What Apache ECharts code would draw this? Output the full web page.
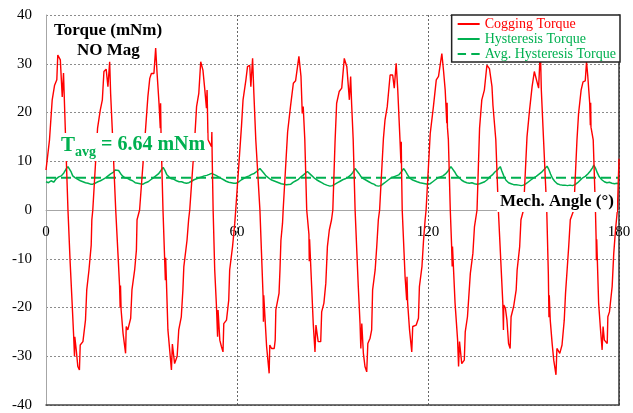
<!DOCTYPE html>
<html>
<head>
<meta charset="utf-8">
<script src="https://cdn.jsdelivr.net/npm/echarts@6/dist/echarts.min.js"></script>
<style>
html,body{margin:0;padding:0;background:#fff;}
#c{width:633px;height:413px;}
</style>
</head>
<body>
<div id="c"></div>
<script>
// ---- data ----
var xTicks = [0, 60, 120, 180];
var yTicks = [-40, -30, -20, -10, 0, 10, 20, 30, 40];
var avgTorque = 6.64;

var coggingAngle = [
 0,1.1,1.95,2.7,3.4,3.7,4.5,5.1,5.5,5.8,6.05,6.9,7.6,8.2,8.65,8.95,9.05,9.5,10.0,10.5,10.75,11.6,12.4,12.8,13.5,14.2,14.4,
 14.7,16.2,17.05,17.7,18.2,18.9,19.45,20.0,20.3,20.8,21.9,22.6,23.1,23.3,23.4,23.6,24.2,25.0,25.2,25.7,26.6,27.0,27.85,28.4,28.6,
 29.4,31.3,32.0,32.6,33.1,33.9,34.45,34.9,35.5,35.9,36.0,36.15,36.75,37.5,37.6,38.3,39.4,39.7,40.4,41.2,41.7,42.5,43.0,43.3,44.3,44.8,
 45.15,46.7,47.3,48.0,48.6,49.3,49.9,50.4,50.6,50.9,52.0,52.1,52.2,52.5,53.0,53.55,53.9,54.05,54.6,55.1,55.6,55.85,56.7,57.4,57.7,58.6,59.3,
 59.6,61.4,61.9,62.8,63.3,64.0,64.35,64.9,65.3,65.9,67.2,67.7,68.2,68.3,68.4,69.3,70.1,70.3,70.85,71.7,72.0,72.2,73.2,73.5,73.8,74.3,
 74.5,75.9,76.8,77.7,78.4,79.45,80.1,80.5,80.8,81.3,81.9,82.6,82.7,82.8,83.45,83.95,84.5,84.8,85.5,86.3,86.6,87.3,87.9,88.4,89.0,89.7,
 90.1,90.8,91.3,92.1,92.9,93.7,94.5,95.3,95.7,96.0,96.5,97.1,98.1,98.65,98.9,99.2,99.7,100.2,100.75,101.1,101.8,102.3,102.6,103.4,103.9,104.4,
 104.8,106.0,106.5,107.2,108.1,108.9,109.4,110.0,110.5,111.2,111.5,111.6,111.7,111.9,112.8,113.3,113.4,113.6,114.2,114.9,115.2,116.3,117.0,117.3,118.1,118.6,119.1,
 119.4,120.7,121.7,122.6,123.3,123.8,124.35,124.9,125.4,125.9,126.0,126.1,126.4,127.0,127.4,127.6,127.7,128.5,129.3,129.6,129.9,130.6,131.4,131.7,132.4,133.3,134.1,134.6,
 135.4,136.2,136.9,137.7,138.5,139.3,140.1,140.4,141.3,142.1,143.5,143.7,143.8,144.3,144.8,145.3,145.8,146.1,146.9,147.7,148.0,148.8,149.2,
 150.0,151.1,151.9,152.7,153.4,154.0,154.75,155.3,155.6,156.3,157.3,157.8,158.0,158.1,158.4,159.0,159.5,160.2,160.5,161.4,162.1,162.8,163.2,163.7,164.2,164.7,
 165.8,166.8,167.3,168.1,168.7,169.4,169.8,170.2,170.8,171.0,171.1,171.2,171.9,172.6,172.8,172.9,173.0,173.6,174.2,174.7,175.0,175.4,176.3,176.5,177.0,177.85,178.35,178.9,179.5,180
];
var coggingTorque = [
 8.2,14.4,22.6,25.6,26.7,31.8,30.8,23.2,28.1,21.9,16.8,0,-10.9,-19,-25.3,-30,-26,-28.7,-32.1,-32.8,-27.7,-27,-22.6,-16.4,-12.3,-7.2,-2,
 0,16.8,20.5,22.6,28.4,28.9,25.3,30.4,23.9,16.8,0,-8.9,-15.4,-20,-15.5,-20.5,-25.3,-29.4,-23.9,-24.6,-22.2,-16.4,-12.3,-8.2,-2,
 0,16.8,23.2,27,28,28,33.2,28,21.9,16.8,21.9,15,0,-14.4,-9.8,-24.6,-32.8,-27.5,-31.5,-30,-24.6,-21.9,-16.4,-11.6,-6.2,-2,
 0,14.4,21.2,23.9,30.4,28.7,24.6,20.9,24.6,14.4,13,16,11,0,-12.3,-19.8,-26,-20.5,-26.7,-28,-29.1,-23.3,-22.6,-18.5,-12.3,-7.5,-2.7,
 0,17.1,22.6,26.7,29.4,29.7,25.3,31.1,23.9,14.4,0,-8.9,-17.8,-22.9,-17.5,-28,-33.5,-27.7,-28.4,-28.4,-26.7,-20.5,-17.1,-12.3,-6.2,-2.7,
 0,16,21.2,26,26.5,31.5,27.4,19.8,21.2,14.4,0,-5,-10.5,-6,-15.7,-23.3,-29.1,-23.6,-27,-27,-20.9,-19.1,-15,-7.5,-4.1,-2,
 0,14,21.9,24.3,25,31.1,29.4,22.6,27.4,21.9,14.4,0,-15.7,-23.3,-28.4,-23.3,-29.4,-32.1,-33.2,-27.4,-26.3,-24.6,-16.4,-12.3,-7.5,-2,
 0,14.7,18.5,21.2,27.7,27.7,25,30.1,24.6,14.4,9.6,14,8,0,-13.7,-18.5,-13.7,-19,-24.6,-29.1,-23.9,-23.6,-22.2,-15.7,-11.6,-6.2,-2,
 0,15.7,21.2,26.7,27.4,27.4,32.1,28.4,24.6,17.8,22,17,14.4,0,-7,-11.6,-7.5,-19.1,-26.7,-32.1,-27,-31.5,-30.8,-25,-21.9,-13,-8.9,-3.4,
 0,16.8,22.6,24.6,29.7,29,25.3,21.5,14.4,0,-19.1,-24.6,-19.5,-20.1,-22.6,-27.4,-28.4,-21.9,-19.8,-16.4,-12.3,-7.5,-2,
 0,15,20.5,25.3,28.4,28,25,33,24.6,14.4,0,-13,-22,-17.5,-22.6,-27.4,-30.8,-33.8,-28.4,-29.4,-27.7,-22.6,-17.1,-12.3,-7.5,-2,
 0,14.4,19.8,24.6,26.3,26.5,30.4,27.4,21.9,17.4,22,17,14.4,0,-5.5,-10.3,-6,-19.1,-24.6,-28.7,-23.9,-26.7,-27.4,-21.9,-20.9,-15.7,-8.9,-4.1,0,10.5
];

var hystAngle = [
 0,0.8,1.6,2.4,3.2,4.0,4.8,5.6,6.3,6.9,7.4,7.9,8.4,9.2,10.0,10.8,11.6,12.4,13.2,14.0,14.7,15.5,16.3,17.1,17.9,18.7,19.5,20.3,21.1,21.7,22.3,22.8,23.4,24.0,24.8,25.6,26.4,27.2,28.0,28.8,29.6,
 30.5,31.3,32.1,32.9,33.7,34.5,35.3,36.0,36.8,37.3,37.9,38.6,39.4,40.2,41.0,41.8,42.6,43.4,44.1,44.9,45.7,46.5,47.3,48.1,48.9,49.7,50.5,51.3,52.0,52.7,53.4,54.2,55.0,55.8,56.6,57.4,58.2,59.0,59.8,
 60.6,61.4,62.2,63.0,63.8,64.6,65.4,66.2,67.2,67.8,68.4,69.1,69.9,70.7,71.5,72.3,73.1,73.9,74.7,75.5,76.1,76.9,77.7,78.5,79.3,80.1,80.9,81.5,82.1,82.7,83.4,84.2,85.0,85.8,86.6,87.4,88.2,89.2,
 90.0,90.8,91.6,92.4,93.2,94.0,94.8,95.6,96.4,97.1,97.7,98.3,99.0,99.8,100.6,101.4,102.2,103.0,103.7,104.4,105.2,106.0,106.8,107.6,108.4,109.2,110.0,110.8,111.6,112.3,112.9,113.5,114.2,115.0,115.8,116.6,117.5,118.3,119.1,119.9,
 120.7,121.5,122.3,123.1,123.9,124.7,125.5,126.3,127.2,127.8,128.4,129.0,129.8,130.6,131.4,132.2,133.0,133.8,134.6,135.4,136.2,137.0,137.8,138.6,139.4,140.2,141.0,141.8,142.7,143.2,143.8,144.5,145.3,146.1,146.9,147.7,148.5,149.3,
 150.0,150.8,151.6,152.4,153.2,154.0,154.8,155.6,156.6,157.4,157.9,158.5,159.1,159.8,160.6,161.4,162.2,163.0,163.8,164.6,165.4,166.2,167.0,167.8,168.6,169.4,170.2,171.0,171.6,172.1,172.6,173.2,173.8,174.6,175.4,176.2,177.0,177.8,178.6,179.4,180
];
var hystTorque = [
 5.8,5.6,6.0,5.7,6.4,6.8,7.0,7.6,8.4,8.9,8.6,7.8,7.0,6.6,6.3,6.0,5.8,5.6,5.5,5.3,5.3,5.5,5.8,6.0,6.3,6.6,7.0,7.4,7.7,8.2,8.5,8.1,7.5,7.0,6.6,6.5,6.2,6.0,5.6,5.5,5.4,
 5.3,5.6,5.8,6.2,6.6,7.0,7.4,8.0,8.75,8.2,7.3,6.8,6.4,6.3,6.0,5.8,5.8,5.6,5.5,5.6,5.9,6.2,6.4,6.6,6.8,7.0,7.1,7.3,7.5,7.3,7.1,6.8,6.5,6.2,5.9,5.7,5.6,5.5,5.5,
 5.8,6.2,6.5,6.8,7.0,7.3,7.5,7.9,8.5,8.2,7.6,7.0,6.6,6.2,6.0,5.8,5.6,5.4,5.3,5.2,5.1,5.3,5.7,6.0,6.3,6.8,7.2,7.5,7.9,7.6,7.1,6.6,6.2,5.9,5.6,5.3,5.1,4.9,
 5.0,5.3,5.6,5.9,6.2,6.4,6.7,7.1,7.7,8.5,8.1,7.5,6.8,6.4,6.1,5.8,5.5,5.3,5.0,4.9,5.0,5.4,5.8,6.2,6.6,6.8,7.0,7.2,7.8,8.5,8.0,7.3,6.6,6.2,6.0,5.8,5.6,5.5,5.4,5.3,
 5.4,5.8,6.2,6.6,6.8,7.0,7.4,8.0,8.9,8.6,7.8,7.1,6.6,6.1,5.8,5.6,5.5,5.6,5.4,5.3,5.4,5.6,5.8,6.2,6.8,7.2,7.8,8.2,8.9,8.0,7.0,6.1,5.6,5.4,5.2,5.2,5.1,5.0,
 5.1,5.4,5.8,6.2,6.6,6.9,7.3,7.7,8.4,9.0,8.4,7.4,6.5,5.9,5.4,5.2,5.1,5.1,5.0,5.1,5.0,5.2,5.6,6.1,6.6,6.9,7.4,8.0,8.6,9.2,8.6,7.6,6.8,6.2,5.8,5.6,5.7,5.5,5.4,5.5,5.3
];

function pairs(xs, ys) { return xs.map(function (x, i) { return [x, ys[i]]; }); }

var RED = '#ff0000', GREEN = '#00b050';
var SERIF = "'Liberation Serif','Times New Roman',serif";
var GRID = {left: 46, right: 14, top: 15, bottom: 8};
var PLOT_H = 413 - GRID.top - GRID.bottom;
var yMin = yTicks[0], yMax = yTicks[yTicks.length - 1];
// offset that brings the labelled x axis from the grid bottom up to the value 0
var zeroOffset = -PLOT_H * (0 - yMin) / (yMax - yMin);

var chart = echarts.init(document.getElementById('c'), null, {renderer: 'canvas'});
chart.setOption({
  animation: false,
  backgroundColor: '#ffffff',
  grid: {left: GRID.left, right: GRID.right, top: GRID.top, bottom: GRID.bottom, containLabel: false, outerBoundsMode: 'none'},
  title: [
    {text: 'Torque (mNm)', left: 54, top: 22, padding: 0,
     textStyle: {fontFamily: SERIF, fontWeight: 'bold', fontSize: 17, color: '#000'}},
    {text: 'NO Mag', left: 77, top: 42, padding: 0,
     textStyle: {fontFamily: SERIF, fontWeight: 'bold', fontSize: 17, color: '#000'}},
    {text: '{t|T}{s|avg}{m| = 6.64 mNm}', left: 59, top: 133, padding: [2, 2, 2, 2], backgroundColor: '#fff',
     textStyle: {rich: {
       t: {fontFamily: SERIF, fontWeight: 'bold', fontSize: 21, color: GREEN, lineHeight: 22, verticalAlign: 'top'},
       s: {fontFamily: SERIF, fontWeight: 'bold', fontSize: 14, color: GREEN, lineHeight: 14, padding: [10, 0, 0, 0], verticalAlign: 'top'},
       m: {fontFamily: SERIF, fontWeight: 'bold', fontSize: 20, color: GREEN, lineHeight: 22, verticalAlign: 'top'}
     }}},
    {text: 'Mech. Angle (°)', left: 497, top: 192, padding: [1, 3, 1, 3], backgroundColor: '#fff',
     textStyle: {fontFamily: SERIF, fontWeight: 'bold', fontSize: 17, color: '#000', lineHeight: 18}}
  ],
  legend: {
    right: 13, top: 15, orient: 'vertical', align: 'left',
    backgroundColor: '#fff', borderColor: '#222', borderWidth: 1.5, borderRadius: 0,
    padding: [2, 4, 1, 6], itemGap: 1, itemWidth: 22, itemHeight: 2, symbolKeepAspect: false,
    textStyle: {fontFamily: SERIF, fontSize: 14, lineHeight: 14},
    data: [
      {name: 'Cogging Torque', icon: 'path://M0,0H22V2H0Z', textStyle: {color: RED}},
      {name: 'Hysteresis Torque', icon: 'path://M0,0H22V2H0Z', textStyle: {color: GREEN}},
      {name: 'Avg. Hysteresis Torque', icon: 'path://M0,0H8V2H0Z M13,0H21V2H13Z', textStyle: {color: GREEN}}
    ]
  },
  xAxis: [
    {type: 'value', min: 0, max: 180, interval: 60, position: 'bottom', offset: zeroOffset,
     axisLine: {show: true, onZero: false, lineStyle: {color: '#a6a6a6', width: 1}},
     axisTick: {show: false},
     axisLabel: {show: true, margin: 15, showMinLabel: true, showMaxLabel: true, hideOverlap: false,
       fontFamily: SERIF, fontSize: 15, color: '#000'},
     splitLine: {show: true, lineStyle: {color: '#666', type: [2, 2], width: 1}}},
    {type: 'value', min: 0, max: 180, position: 'bottom',
     axisLine: {show: true, onZero: false, lineStyle: {color: '#444', width: 1.5}},
     axisTick: {show: false}, axisLabel: {show: false}, splitLine: {show: false}}
  ],
  yAxis: [
    {type: 'value', min: yMin, max: yMax, interval: 10,
     axisLine: {show: true, onZero: false, lineStyle: {color: '#a6a6a6', width: 1}},
     axisTick: {show: false},
     axisLabel: {show: true, margin: 14, showMinLabel: true, showMaxLabel: true, hideOverlap: false,
       fontFamily: SERIF, fontSize: 15, color: '#000'},
     splitLine: {show: true, lineStyle: {color: '#8c8c8c', type: [2, 2], width: 1}}},
    {type: 'value', min: yMin, max: yMax, position: 'right',
     axisLine: {show: true, onZero: false, lineStyle: {color: '#333', width: 1.5}},
     axisTick: {show: false}, axisLabel: {show: false}, splitLine: {show: false}}
  ],
  series: [
    {name: 'Cogging Torque', type: 'line', xAxisIndex: 0, yAxisIndex: 0, data: pairs(coggingAngle, coggingTorque),
     symbol: 'none', showSymbol: false, lineStyle: {color: RED, width: 1.4}, itemStyle: {color: RED}, z: 3},
    {name: 'Hysteresis Torque', type: 'line', xAxisIndex: 0, yAxisIndex: 0, data: pairs(hystAngle, hystTorque),
     symbol: 'none', showSymbol: false, lineStyle: {color: GREEN, width: 1.5}, itemStyle: {color: GREEN}, z: 2},
    {name: 'Avg. Hysteresis Torque', type: 'line', xAxisIndex: 0, yAxisIndex: 0, data: [[xTicks[0], avgTorque], [xTicks[xTicks.length - 1], avgTorque]],
     symbol: 'none', showSymbol: false, lineStyle: {color: GREEN, width: 2, type: [10, 5]}, itemStyle: {color: GREEN}, z: 2}
  ]
});
</script>
</body>
</html>
